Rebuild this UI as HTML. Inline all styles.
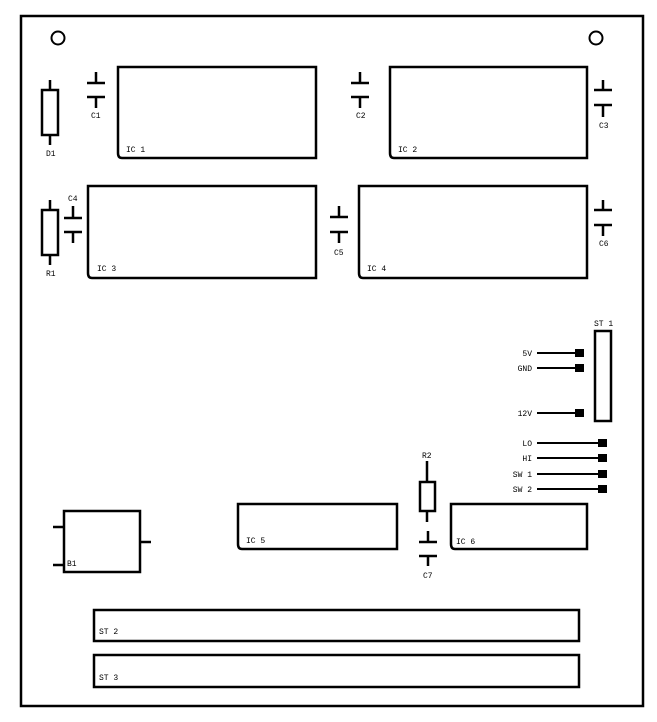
<!DOCTYPE html>
<html><head><style>body{margin:0;background:#fff}svg{display:block}text{font-family:"Liberation Mono",monospace;font-size:8px;fill:#000}</style></head><body>
<svg width="657" height="722" viewBox="0 0 657 722" xmlns="http://www.w3.org/2000/svg">
<g fill="none" stroke="#000" stroke-width="2.5">
<rect x="21" y="16" width="622" height="690"/>
<circle cx="58" cy="38" r="6.5" stroke-width="2"/>
<circle cx="596" cy="38" r="6.5" stroke-width="2"/>
<!-- ICs -->
<path d="M118,67 H316 V158 H122 Q118,158 118,153 Z"/>
<path d="M390,67 H587 V158 H394 Q390,158 390,153 Z"/>
<path d="M88,186 H316 V278 H92 Q88,278 88,273 Z"/>
<path d="M359,186 H587 V278 H363 Q359,278 359,273 Z"/>
<path d="M238,504 H397 V549 H242 Q238,549 238,544 Z"/>
<path d="M451,504 H587 V549 H455 Q451,549 451,544 Z"/>
<!-- resistors -->
<rect x="42" y="90" width="16" height="45"/><path d="M50,80V90M50,135V145"/>
<rect x="42" y="210" width="16" height="45"/><path d="M50,200V210M50,255V265"/>
<rect x="420" y="482" width="15" height="29"/><path d="M427,461V482M427,511V522"/>
<!-- caps -->
<path d="M87,83H105M96,72V83M87,97H105M96,97V108"/>
<path d="M351,83H369M360,72V83M351,97H369M360,97V108"/>
<path d="M594,90H612M603,80V90M594,105H612M603,105V117"/>
<path d="M64,218H82M73,206V218M64,232H82M73,232V243"/>
<path d="M330,217H348M339,206V217M330,232H348M339,232V243"/>
<path d="M594,210H612M603,200V210M594,225H612M603,225V236"/>
<path d="M419,542H437M428,531V542M419,556H437M428,556V566"/>
<!-- B1 -->
<rect x="64" y="511" width="76" height="61"/><path d="M53,527H64M53,565H64M140,542H151"/>
<!-- ST -->
<rect x="595" y="331" width="16" height="90"/>
<rect x="94" y="610" width="485" height="31"/>
<rect x="94" y="655" width="485" height="32"/>
<!-- pins -->
<path d="M537,353H578M537,368H578M537,413H578M537,443H600M537,458H600M537,474H600M537,489H600" stroke-width="2"/>
</g>
<g fill="#000">
<rect x="575" y="349" width="9" height="8"/><rect x="575" y="364" width="9" height="8"/><rect x="575" y="409" width="9" height="8"/>
<rect x="598" y="439" width="9" height="8"/><rect x="598" y="454" width="9" height="8"/><rect x="598" y="470" width="9" height="8"/><rect x="598" y="485" width="9" height="8"/>
</g>
<text x="46" y="156">D1</text><text x="91" y="118">C1</text><text x="356" y="118">C2</text><text x="599" y="128">C3</text>
<text x="68" y="201">C4</text><text x="334" y="255">C5</text><text x="599" y="246">C6</text><text x="423" y="578">C7</text>
<text x="46" y="276">R1</text><text x="422" y="458">R2</text>
<text x="126" y="152">IC 1</text><text x="398" y="152">IC 2</text><text x="97" y="271">IC 3</text><text x="367" y="271">IC 4</text>
<text x="246" y="543">IC 5</text><text x="456" y="544">IC 6</text><text x="67" y="566">B1</text>
<text x="594" y="326">ST 1</text><text x="99" y="634">ST 2</text><text x="99" y="680">ST 3</text>
<g text-anchor="end"><text x="532" y="356">5V</text><text x="532" y="371">GND</text><text x="532" y="416">12V</text><text x="532" y="446">LO</text><text x="532" y="461">HI</text><text x="532" y="477">SW 1</text><text x="532" y="492">SW 2</text></g>
</svg>
</body></html>
